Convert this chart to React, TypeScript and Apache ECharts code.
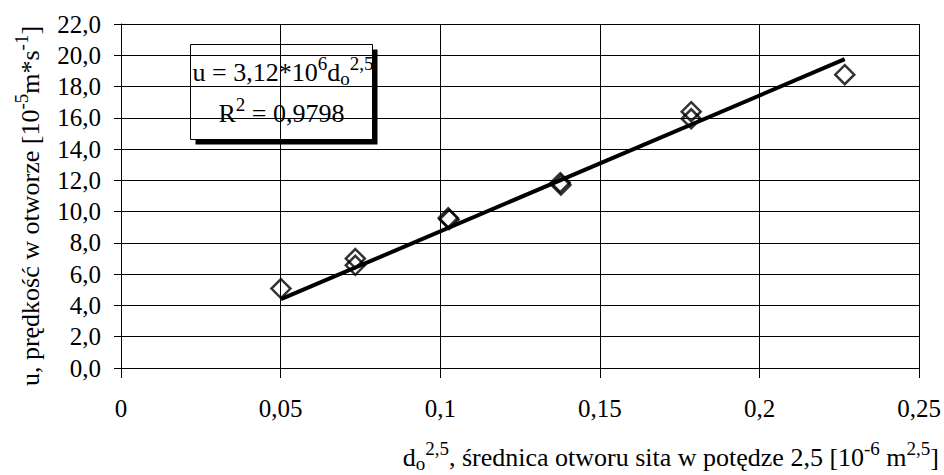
import React, { useEffect, useRef } from 'react';
import * as echarts from 'echarts';

// Measured points (x: d_o^2.5 [1e-6 m^2.5], y: u [1e-5 m/s])
const pointX = [0.0501, 0.0734, 0.0734, 0.1025, 0.1028, 0.1376, 0.1378, 0.1786, 0.1786, 0.2267];
const pointY = [5.08, 7.0, 6.57, 9.6, 9.5, 11.85, 11.7, 16.39, 15.94, 18.76];

// Trend line end points
const trendX = [0.0501, 0.2267];
const trendY = [4.4, 19.75];

// Axis tick labels
const xTickLabels = ['0', '0,05', '0,1', '0,15', '0,2', '0,25'];
const yTickLabels = ['0,0', '2,0', '4,0', '6,0', '8,0', '10,0', '12,0', '14,0', '16,0', '18,0', '20,0', '22,0'];

const equationLine1 = '{b|u\u00a0=\u00a03,12*10}{sup|6}{b|d}{sub|o}{sup|2,5}';
const equationLine2 = '{b|R}{sup|2}{b|\u00a0=\u00a00,9798}';
const yTitle = '{b|u, prędkość w otworze [10}{sup|-5}{b|m*s}{sup|-1}{b|]}';
const xTitle = '{b|d}{sub|o}{sup|2,5}{b|, średnica otworu sita w potędze 2,5 [10}{sup|-6}{b|\u00a0m}{sup|2,5}{b|]}';

const FONT = 'Liberation Serif';

const rich = {
  b: { fontSize: 26, fontFamily: FONT, color: '#000' },
  sup: { fontSize: 19, fontFamily: FONT, color: '#000', padding: [0, 0, 18, 0] },
  sub: { fontSize: 19, fontFamily: FONT, color: '#000', padding: [12, 0, 0, 0] },
};

export default function App() {
  const ref = useRef<HTMLDivElement>(null);

  useEffect(() => {
    if (!ref.current) return;
    const chart = echarts.init(ref.current, null, { renderer: 'svg' });

    const boxX = 190.5;
    const boxY = 44.5;
    const boxW = 182;
    const boxH = 95;

    chart.setOption({
      animation: false,
      backgroundColor: '#fff',
      textStyle: { fontFamily: FONT },
      grid: { left: 121, right: 23, top: 24, bottom: 107, containLabel: false },
      xAxis: {
        type: 'value',
        min: 0,
        max: 0.25,
        interval: 0.05,
        axisLine: { show: true, onZero: false, lineStyle: { color: '#000', width: 1 } },
        axisTick: { show: true, length: 10, lineStyle: { color: '#000', width: 1 } },
        axisLabel: {
          margin: 28,
          fontSize: 25,
          fontFamily: FONT,
          color: '#000',
          formatter: (v: number) => xTickLabels[Math.round(v / 0.05)] ?? '',
        },
        splitLine: { show: true, lineStyle: { color: '#000', width: 1 } },
      },
      yAxis: {
        type: 'value',
        min: 0,
        max: 22,
        interval: 2,
        axisLine: { show: true, onZero: false, lineStyle: { color: '#000', width: 1 } },
        axisTick: { show: true, length: 7, lineStyle: { color: '#000', width: 1 } },
        axisLabel: {
          margin: 20,
          fontSize: 25,
          fontFamily: FONT,
          color: '#000',
          formatter: (v: number) => yTickLabels[Math.round(v / 2)] ?? '',
        },
        splitLine: { show: true, lineStyle: { color: '#000', width: 1 } },
      },
      series: [
        {
          type: 'scatter',
          data: pointX.map((x, i) => [x, pointY[i]]),
          symbol: 'diamond',
          symbolSize: 19,
          itemStyle: { color: 'rgba(255,255,255,0)', borderColor: '#000', borderWidth: 2.5 },
          z: 3,
        },
        {
          type: 'line',
          data: trendX.map((x, i) => [x, trendY[i]]),
          showSymbol: false,
          symbol: 'none',
          lineStyle: { color: '#000', width: 4 },
          z: 4,
        },
      ],
      graphic: [
        {
          type: 'group',
          z: 100,
          children: [
            { type: 'rect', shape: { x: boxX + 5, y: boxY + 5, width: boxW, height: boxH }, style: { fill: '#000' } },
            { type: 'rect', shape: { x: boxX, y: boxY, width: boxW, height: boxH }, style: { fill: '#fff', stroke: '#000', lineWidth: 1 } },
            {
              type: 'text',
              x: boxX + 2,
              y: 72,
              style: { text: equationLine1, rich, align: 'left', verticalAlign: 'middle', fontSize: 26, fontFamily: FONT },
            },
            {
              type: 'text',
              x: boxX + boxW / 2,
              y: 113,
              style: { text: equationLine2, rich, align: 'center', verticalAlign: 'middle', fontSize: 26, fontFamily: FONT },
            },
          ],
        },
        {
          type: 'text',
          x: 30,
          y: 206,
          rotation: Math.PI / 2,
          style: { text: yTitle, rich, align: 'center', verticalAlign: 'middle', fontSize: 26, fontFamily: FONT },
        },
        {
          type: 'text',
          x: 939,
          y: 457,
          style: { text: xTitle, rich, align: 'right', verticalAlign: 'middle', fontSize: 26, fontFamily: FONT },
        },
      ],
    });

    return () => chart.dispose();
  }, []);

  return <div ref={ref} style={{ position: 'fixed', left: 0, top: 0, width: 944, height: 475 }} />;
}
